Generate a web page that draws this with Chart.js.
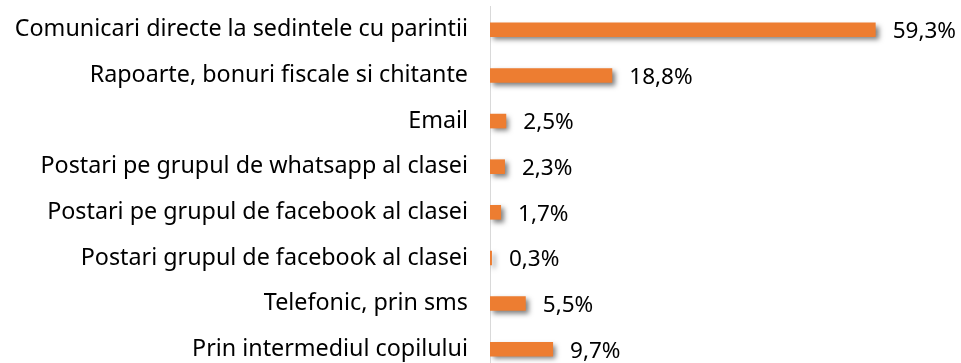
<!DOCTYPE html>
<html>
<head>
<meta charset="utf-8">
<script src="https://cdn.jsdelivr.net/npm/chart.js@4"></script>
<style>
  html, body { margin: 0; padding: 0; background: #fff; overflow: hidden; }
  #wrap { position: relative; width: 961px; height: 380px; }
</style>
</head>
<body>
<div id="wrap"><canvas id="grafic"></canvas></div>
<script>
const categorii = [
    'Comunicari directe la sedintele cu parintii',
    'Rapoarte, bonuri fiscale si chitante',
    'Email',
    'Postari pe grupul de whatsapp al clasei',
    'Postari pe grupul de facebook al clasei',
    'Postari grupul de facebook al clasei',
    'Telefonic, prin sms',
    'Prin intermediul copilului'
];
const procente = [59.3, 18.8, 2.5, 2.3, 1.7, 0.3, 5.5, 9.7];

const FONT = '"Noto Sans", sans-serif';

// umbra sub bare
const umbraBare = {
    id: 'umbraBare',
    beforeDatasetsDraw(chart) {
        const c = chart.ctx;
        c.save();
        c.shadowColor = 'rgba(0,0,0,0.5)';
        c.shadowBlur = 5;
        c.shadowOffsetX = 3;
        c.shadowOffsetY = 3;
    },
    afterDatasetsDraw(chart) {
        chart.ctx.restore();
    }
};

// eticheta cu procentul dupa fiecare bara
const eticheteValori = {
    id: 'eticheteValori',
    afterDatasetsDraw(chart) {
        const c = chart.ctx;
        const meta = chart.getDatasetMeta(0);
        c.save();
        c.font = '22.5px ' + FONT;
        c.fillStyle = '#000';
        c.textAlign = 'left';
        c.textBaseline = 'middle';
        meta.data.forEach(function(bar, i) {
            const p = bar.getProps(['x', 'y'], true);
            c.fillText(procente[i].toFixed(1).replace('.', ',') + '%', p.x + 17, p.y + 2);
        });
        c.restore();
    }
};

const ctx = document.getElementById('grafic').getContext('2d');
new Chart(ctx, {
    type: 'bar',
    data: {
        labels: categorii,
        datasets: [{
            data: procente,
            backgroundColor: '#ED7D31',
            borderWidth: 0,
            categoryPercentage: 1,
            barPercentage: 0.32
        }]
    },
    options: {
        indexAxis: 'y',
        responsive: true,
        maintainAspectRatio: false,
        animation: false,
        layout: { padding: { top: 0, right: 19, bottom: 8, left: 0 } },
        plugins: {
            legend: { display: false },
            tooltip: { enabled: false }
        },
        scales: {
            x: {
                min: 0,
                max: 69.5,
                display: false
            },
            y: {
                afterFit: function(scale) { scale.width = 490; },
                grid: { display: true, drawOnChartArea: false, drawTicks: true, tickLength: 22, color: 'rgba(0,0,0,0)' },
                border: { display: true, color: '#d9d9d9', width: 1 },
                ticks: {
                    color: '#000',
                    padding: 0,
                    font: { family: FONT, size: 23.3, lineHeight: 0.6 }
                }
            }
        }
    },
    plugins: [umbraBare, eticheteValori]
});
</script>
</body>
</html>
